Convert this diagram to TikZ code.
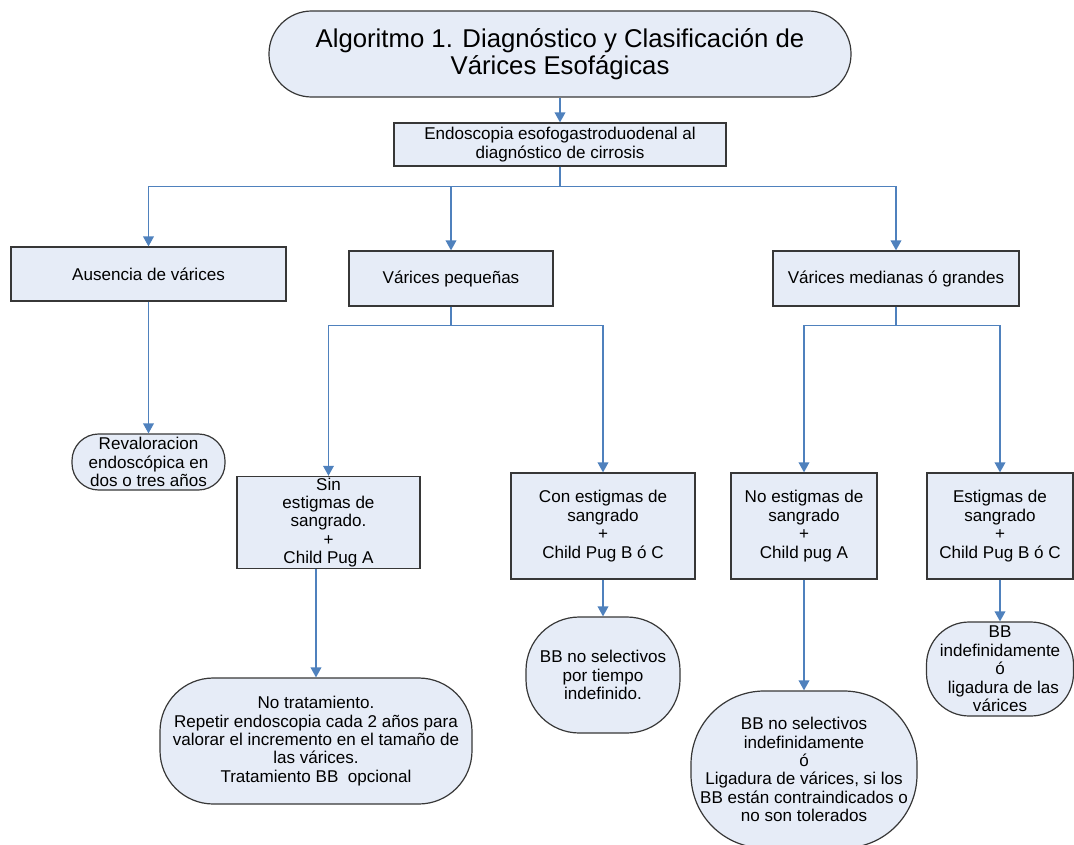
\documentclass[tikz,border=0pt]{standalone}
\usepackage{fontspec}
\setmainfont{Liberation Sans}
\usetikzlibrary{arrows.meta}

\definecolor{relleno}{RGB}{230,236,247}
\definecolor{borde}{RGB}{55,55,55}
\definecolor{azul}{RGB}{79,129,189}

\begin{document}
\begin{tikzpicture}[
        x=0.75pt, y=-0.75pt, % 1 unidad = 1 px de la figura
        caja/.style={rectangle, draw=borde, fill=relleno, line width=0.9pt, align=center,
            inner sep=1pt, font=\fontsize{12.8}{13.8}\selectfont}, % Estilo de las cajas
        ovalo/.style={caja, rounded corners=#1}, % Cajas redondeadas
        flecha/.style={draw=azul, line width=1.1pt, -{Triangle[length=7.5pt, width=8pt]}},
    ]
    \useasboundingbox (0,0) rectangle (1074,845);

    % Nivel 0 y 1
    \node[ovalo=32pt, minimum width=436.5pt, minimum height=64.5pt, font=\fontsize{19.3}{19.8}\selectfont]
        (titulo) at (560,54) {Algoritmo 1. Diagnóstico y Clasificación de\\Várices Esofágicas};
    \node[caja, minimum width=249pt, minimum height=32.25pt] (endo) at (560,144.5)
        {Endoscopia esofogastroduodenal al\\diagnóstico de cirrosis};

    % Nivel 2
    \node[caja, minimum width=206.25pt, minimum height=40.5pt] (ausencia) at (148.5,274) {Ausencia de várices};
    \node[caja, minimum width=153pt, minimum height=41.25pt] (pequenas) at (451,278.5) {Várices pequeñas};
    \node[caja, minimum width=184.5pt, minimum height=41.25pt] (medianas) at (896,278.5) {Várices medianas ó grandes};

    % Nivel 3
    \node[ovalo=20pt, minimum width=114.75pt, minimum height=42pt] (revaloracion) at (148.5,462)
        {Revaloracion\\endoscópica en\\dos o tres años};
    \node[caja, minimum width=137.25pt, minimum height=68.25pt] (sin) at (328.5,522.5)
        {Sin\\estigmas de\\sangrado.\\+\\Child Pug A};
    \node[caja, minimum width=138pt, minimum height=79.5pt] (con) at (603,526)
        {Con estigmas de\\sangrado\\+\\Child Pug B ó C};
    \node[caja, minimum width=109.5pt, minimum height=79.5pt] (noestigmas) at (804,526)
        {No estigmas de\\sangrado\\+\\Child pug A};
    \node[caja, minimum width=109.5pt, minimum height=79.5pt] (estigmas) at (1000,526)
        {Estigmas de\\sangrado\\+\\Child Pug B ó C};

    % Nivel 4
    \node[ovalo=40pt, minimum width=234pt, minimum height=94.5pt] (notrat) at (316,741)
        {No tratamiento.\\Repetir endoscopia cada 2 años para\\valorar el incremento en el tamaño de\\las várices.\\Tratamiento BB~ opcional};
    \node[ovalo=40pt, minimum width=115.5pt, minimum height=87pt] (bbtiempo) at (603,675)
        {BB no selectivos\\por tiempo\\indefinido.};
    \node[ovalo=55pt, minimum width=169.5pt, minimum height=117.75pt] (bbindef) at (804,769.5)
        {BB no selectivos\\indefinidamente\\ó\\Ligadura de várices, si los\\BB están contraindicados o\\no son tolerados};
    \node[ovalo=32pt, minimum width=110.25pt, minimum height=70.5pt] (bbligadura) at (1000,669)
        {BB\\indefinidamente\\ó\\\hspace{0.4em}ligadura de las\\várices};

    % Conectores
    \draw[flecha] (titulo.south) -- (endo.north);
    \draw[flecha] (endo.south) -- ++(0,20) -| (ausencia.north);
    \draw[flecha] (endo.south) -- ++(0,20) -| (pequenas.north);
    \draw[flecha] (endo.south) -- ++(0,20) -| (medianas.north);
    \draw[flecha] (ausencia) -- (revaloracion);
    \draw[flecha] (pequenas.south) -- ++(0,19) -| (sin.north);
    \draw[flecha] (pequenas.south) -- ++(0,19) -| (con.north);
    \draw[flecha] (medianas.south) -- ++(0,19) -| (noestigmas.north);
    \draw[flecha] (medianas.south) -- ++(0,19) -| (estigmas.north);
    \draw[flecha] (sin.south -| notrat) -- (notrat.north);
    \draw[flecha] (con) -- (bbtiempo);
    \draw[flecha] (noestigmas) -- (bbindef);
    \draw[flecha] (estigmas) -- (bbligadura);
\end{tikzpicture}
\end{document}
